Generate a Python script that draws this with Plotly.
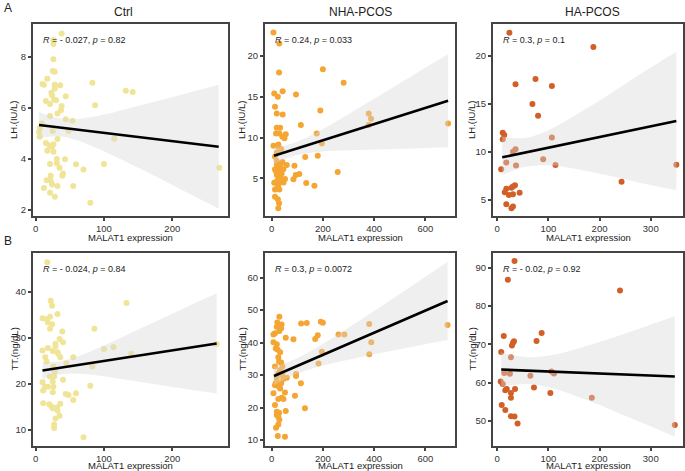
import plotly.graph_objects as go

# ---------------- data ----------------
# Panel A: LH vs MALAT1
ctrl_lh_x = [38, 26, 26, 26, 25, 28, 10, 12, 17, 28, 28, 36, 23, 24, 15, 27, 30, 21, 38, 44, 83,
             87, 132, 142, 37, 32, 21, 44, 54, 9, 6, 5, 6, 25, 48, 15, 20, 24, 26, 32, 115,
             26, 17, 31, 31, 21, 43, 59, 100, 40, 39, 22, 35, 70, 269, 16, 22, 24, 32, 55, 12,
             21, 28, 80]
ctrl_lh_y = [8.91, 8.65, 8.5, 7.9, 7.44, 7.41, 6.93, 6.9, 7.14, 6.9, 6.76, 6.88, 6.59, 6.49, 6.27, 6.33,
             6.3, 6.15, 6.07, 6.45, 6.98, 6.1, 6.67, 6.62, 5.91, 5.78, 5.68, 5.55, 5.5, 5.39, 5.2,
             5.06, 4.87, 5.09, 5.09, 4.63, 4.53, 4.48, 4.58, 4.78, 4.79, 4.28, 4.32, 4.0, 3.83,
             3.8, 3.99, 3.79, 3.8, 3.43, 3.34, 3.34, 3.66, 3.59, 3.66, 3.17, 3.15, 3.0, 2.94, 2.94,
             2.87, 2.68, 2.52, 2.29]

nha_lh_x = [7, 30, 29, 10, 24, 43, 13, 20, 43, 95, 200, 281, 190, 114, 176, 196, 180, 131, 258,
            167, 135, 379, 388, 379, 689, 20, 33, 17, 30, 42, 50, 55, 26, 7, 26, 37, 20, 13, 20,
            37, 20, 33, 24, 13, 29, 39, 20, 33, 24, 37, 13, 46, 26, 59, 89, 94, 85, 52, 10, 20,
            13, 30, 13, 24, 29, 26, 108, 42, 46, 16, 35]
nha_lh_y = [22.85, 21.5, 17.96, 15.4, 14.99, 15.68, 13.76, 12.95, 12.83, 15.27, 18.37, 16.7, 13.3,
            11.52, 10.5, 9.28, 7.77, 7.6, 5.77, 4.1, 4.43, 12.95, 12.3, 11.52, 11.72, 11.2, 11.2,
            10.5, 10.5, 10.1, 9.9, 10.4, 9.16, 9.0, 8.87, 8.6, 8.18, 7.65, 7.1, 6.83, 6.7, 6.5,
            6.3, 6.1, 5.8, 5.6, 5.4, 5.2, 4.8, 4.6, 4.5, 4.5, 4.2, 6.63, 6.55, 5.4, 4.9, 4.92,
            4.47, 3.7, 3.65, 3.65, 2.76, 2.43, 1.94, 1.33, 5.53, 7.0, 6.1, 5.9, 5.9]

ha_lh_x = [24, 188, 75, 36, 107, 69, 80, 11, 14, 11, 107, 36, 31, 90, 18, 37, 114, 350, 8, 243,
           35, 31, 28, 18, 15, 44, 23, 31, 18, 31, 28]
ha_lh_y = [22.43, 20.94, 17.6, 17.05, 16.88, 15.0, 13.78, 12.0, 11.77, 11.32, 11.5, 10.28, 10.03,
           9.24, 8.89, 8.58, 8.65, 8.68, 8.19, 6.91, 6.53, 6.39, 6.28, 6.18, 5.8, 5.76, 5.52,
           5.59, 4.55, 4.31, 4.13]

# Panel B: TT vs MALAT1
ctrl_tt_x = [17, 22, 24, 32, 10, 16, 21, 18, 24, 21, 39, 86, 133, 35, 40, 29, 29, 10, 18, 25, 32,
             33, 36, 14, 16, 55, 45, 100, 114, 140, 83, 26, 28, 21, 27, 25, 10, 40, 26, 14, 11,
             18, 25, 44, 48, 59, 80, 55, 11, 20, 23, 25, 36, 31, 32, 35, 29, 27, 27, 70, 265]
ctrl_tt_y = [46.5, 38.1, 37.0, 35.2, 34.3, 34.1, 34.6, 33.4, 33.0, 32.0, 31.4, 32.0, 37.6, 29.8,
             29.1, 28.7, 28.2, 27.3, 27.8, 27.2, 26.9, 26.6, 25.8, 25.8, 24.9, 25.8, 24.5, 27.6,
             28.0, 26.6, 23.8, 23.8, 22.7, 21.6, 21.6, 20.5, 20.4, 20.9, 19.4, 19.4, 18.6, 19.4,
             18.2, 17.8, 17.6, 18.0, 19.6, 16.5, 15.8, 15.6, 15.1, 14.7, 15.7, 14.9, 14.2, 13.1,
             12.5, 11.2, 10.4, 8.4, 28.7]

nha_tt_x = [30, 22, 39, 20, 30, 37, 13, 7, 55, 85, 115, 137, 192, 200, 180, 170, 261, 284, 381,
            389, 381, 687, 196, 183, 7, 20, 16, 23, 33, 29, 37, 42, 13, 26, 20, 42, 95, 95, 59,
            13, 26, 33, 37, 114, 52, 7, 91, 26, 39, 46, 130, 13, 20, 29, 55, 20, 26, 30, 26, 17,
            24, 52, 33, 20, 45, 26, 16]
nha_tt_y = [48.0, 46.2, 45.6, 44.9, 43.6, 44.4, 42.9, 42.5, 41.5, 41.0, 45.9, 46.0, 46.4, 46.1,
            42.3, 41.1, 42.5, 42.5, 45.7, 40.1, 36.4, 45.4, 37.2, 33.6, 40.1, 39.5, 38.2, 37.9,
            37.0, 34.1, 33.9, 32.6, 32.6, 30.5, 29.2, 30.0, 30.3, 29.7, 29.2, 26.9, 26.6, 25.9,
            27.5, 27.5, 24.6, 24.4, 23.6, 22.6, 23.0, 22.6, 19.8, 20.8, 18.7, 18.4, 18.9, 17.7,
            17.2, 16.2, 14.8, 13.8, 11.2, 11.0, 31.5, 28.0, 28.8, 35.5, 27.5]

ha_tt_x = [34, 21, 240, 87, 13, 33, 31, 29, 77, 8, 27, 14, 25, 65, 106, 111, 7, 11, 19, 16, 35,
           72, 27, 104, 27, 185, 9, 16, 27, 34, 40, 347]
ha_tt_y = [91.8, 86.9, 84.1, 73.0, 72.2, 70.8, 70.4, 69.7, 70.9, 68.0, 66.6, 62.5, 62.3, 61.8,
           62.9, 62.4, 60.3, 59.6, 58.3, 58.0, 58.3, 58.7, 57.3, 57.3, 56.0, 56.0, 54.1, 52.8,
           51.2, 51.1, 49.3, 48.9]

# Fitted regression lines and 95% bands
ctrl_lh_fit_x, ctrl_lh_fit_y = [5, 268], [5.33, 4.48]
ctrl_lh_band_x = [5, 20, 40, 60, 100, 130, 170, 210, 268]
ctrl_lh_band_lo = [4.82, 4.87, 4.87, 4.74, 4.30, 3.92, 3.39, 2.85, 2.06]
ctrl_lh_band_hi = [5.84, 5.69, 5.57, 5.56, 5.74, 5.94, 6.21, 6.49, 6.90]

nha_lh_fit_x, nha_lh_fit_y = [9, 689], [7.77, 14.5]
nha_lh_band_x = [9, 50, 100, 200, 300, 400, 550, 689]
nha_lh_band_lo = [6.73, 7.33, 7.85, 8.28, 8.44, 8.54, 8.66, 8.80]
nha_lh_band_hi = [8.81, 9.03, 9.49, 11.04, 12.86, 14.74, 17.6, 20.2]

ha_lh_fit_x, ha_lh_fit_y = [10, 350], [9.44, 13.23]
ha_lh_band_x = [10, 55, 105, 160, 220, 280, 350]
ha_lh_band_lo = [7.6, 8.45, 8.61, 8.17, 7.51, 6.78, 6.03]
ha_lh_band_hi = [11.6, 11.45, 12.39, 14.05, 16.05, 18.12, 20.43]

ctrl_tt_fit_x, ctrl_tt_fit_y = [10, 265], [22.93, 28.82]
ctrl_tt_band_x = [10, 35, 70, 120, 170, 220, 265]
ctrl_tt_band_lo = [21.09, 22.11, 22.15, 21.2, 20.07, 18.89, 17.92]
ctrl_tt_band_hi = [24.77, 24.91, 26.49, 29.74, 33.19, 36.67, 39.72]

nha_tt_fit_x, nha_tt_fit_y = [9, 687], [29.71, 52.83]
nha_tt_band_x = [9, 80, 150, 250, 350, 450, 560, 687]
nha_tt_band_lo = [26.94, 29.73, 31.76, 33.85, 35.57, 37.17, 38.88, 40.78]
nha_tt_band_hi = [32.48, 34.53, 37.28, 42.01, 47.11, 52.33, 58.12, 64.88]

ha_tt_fit_x, ha_tt_fit_y = [8, 347], [63.4, 61.57]
ha_tt_band_x = [8, 60, 110, 170, 230, 290, 347]
ha_tt_band_lo = [58.93, 59.62, 58.44, 55.68, 52.45, 49.08, 45.82]
ha_tt_band_hi = [67.87, 66.62, 67.26, 69.38, 71.95, 74.68, 77.32]

group_titles = ["Ctrl", "NHA-PCOS", "HA-PCOS"]
stat_labels = ["<i>R</i> = - 0.027, <i>p</i> = 0.82", "<i>R</i> = 0.24, <i>p</i> = 0.033",
               "<i>R</i> = 0.3, <i>p</i> = 0.1", "<i>R</i> = - 0.024, <i>p</i> = 0.84",
               "<i>R</i> = 0.3, <i>p</i> = 0.0072", "<i>R</i> = - 0.02, <i>p</i> = 0.92"]
y_titles = ["LH.(IU/L)", "LH.(IU/L)", "LH.(IU/L)", "TT.(ng/dL)", "TT.(ng/dL)", "TT.(ng/dL)"]
x_title = "MALAT1 expression"

# ---------------- styling / layout ----------------
W, H = 685, 471
FONT = "Liberation Sans, Arial, sans-serif"
colors = ["#F0E496", "#F5A532", "#D25F28"]
FRAME = "#444444"

def fx(p):
    return p / W

def fy(p):
    return 1 - p / H

col_px = [(33, 228), (265, 455), (493, 683)]
row_px = [(24, 216), (253, 446)]

panels = [
    (ctrl_lh_x, ctrl_lh_y, ctrl_lh_fit_x, ctrl_lh_fit_y, ctrl_lh_band_x, ctrl_lh_band_lo, ctrl_lh_band_hi,
     [-3.9, 281.6], [1.77, 9.28], [0, 100, 200], [2, 4, 6, 8]),
    (nha_lh_x, nha_lh_y, nha_lh_fit_x, nha_lh_fit_y, nha_lh_band_x, nha_lh_band_lo, nha_lh_band_hi,
     [-26, 716], [0.39, 23.9], [0, 200, 400, 600], [5, 10, 15, 20]),
    (ha_lh_x, ha_lh_y, ha_lh_fit_x, ha_lh_fit_y, ha_lh_band_x, ha_lh_band_lo, ha_lh_band_hi,
     [-8, 363], [3.33, 23.33], [0, 100, 200, 300], [5, 10, 15, 20]),
    (ctrl_tt_x, ctrl_tt_y, ctrl_tt_fit_x, ctrl_tt_fit_y, ctrl_tt_band_x, ctrl_tt_band_lo, ctrl_tt_band_hi,
     [-3.9, 281.6], [6.5, 48.5], [0, 100, 200], [10, 20, 30, 40]),
    (nha_tt_x, nha_tt_y, nha_tt_fit_x, nha_tt_fit_y, nha_tt_band_x, nha_tt_band_lo, nha_tt_band_hi,
     [-26, 716], [8.15, 67.6], [0, 200, 400, 600], [10, 20, 30, 40, 50, 60]),
    (ha_tt_x, ha_tt_y, ha_tt_fit_x, ha_tt_fit_y, ha_tt_band_x, ha_tt_band_lo, ha_tt_band_hi,
     [-8, 363], [43.4, 93.9], [0, 100, 200, 300], [50, 60, 70, 80, 90]),
]

fig = go.Figure()
layout = dict(width=W, height=H, autosize=False, margin=dict(l=0, r=0, t=0, b=0, pad=0),
              paper_bgcolor="white", plot_bgcolor="white", showlegend=False,
              font=dict(family=FONT, color="#222222"))
annotations = []

axis_common = dict(showgrid=False, zeroline=False, showline=True, mirror=True,
                   linecolor=FRAME, linewidth=2, ticks="outside", ticklen=3,
                   tickwidth=2, tickcolor=FRAME,
                   tickfont=dict(family=FONT, size=9.5, color="#333333"))

for k, (px_, py_, fxs, fys, bx, blo, bhi, xr, yr, xt, yt) in enumerate(panels):
    r, c = divmod(k, 3)
    n = k + 1
    xa = "x" if n == 1 else f"x{n}"
    ya = "y" if n == 1 else f"y{n}"
    xkey = "xaxis" if n == 1 else f"xaxis{n}"
    ykey = "yaxis" if n == 1 else f"yaxis{n}"
    x0, x1 = col_px[c]
    y0, y1 = row_px[r]
    layout[xkey] = dict(axis_common, domain=[fx(x0), fx(x1)], range=xr, tickvals=xt,
                        anchor=ya)
    layout[ykey] = dict(axis_common, domain=[fy(y1), fy(y0)], range=yr, tickvals=yt,
                        anchor=xa)

    fig.add_trace(go.Scatter(x=px_, y=py_, mode="markers", xaxis=xa, yaxis=ya,
                             marker=dict(size=6, color=colors[c], line=dict(width=0)),
                             hoverinfo="skip", cliponaxis=False))
    fig.add_trace(go.Scatter(x=bx, y=blo, mode="lines", xaxis=xa, yaxis=ya,
                             line=dict(width=0, shape="spline", color="rgba(0,0,0,0)"),
                             hoverinfo="skip"))
    fig.add_trace(go.Scatter(x=bx, y=bhi, mode="lines", xaxis=xa, yaxis=ya, fill="tonexty",
                             fillcolor="rgba(215,215,215,0.4)",
                             line=dict(width=0, shape="spline", color="rgba(0,0,0,0)"),
                             hoverinfo="skip"))
    fig.add_trace(go.Scatter(x=fxs, y=fys, mode="lines", xaxis=xa, yaxis=ya,
                             line=dict(width=2.6, color="black"), hoverinfo="skip"))

    # statistics label
    annotations.append(dict(text=stat_labels[k], xref="paper", yref="paper",
                            x=fx(x0 + 8), y=fy(y0 + 16), xanchor="left", yanchor="middle",
                            showarrow=False, font=dict(size=9, color="#222222")))
    # y title
    ytx = [14, 242, 472][c]
    annotations.append(dict(text=y_titles[k], xref="paper", yref="paper",
                            x=fx(ytx), y=fy((y0 + y1) / 2), xanchor="center", yanchor="middle",
                            textangle=-90, showarrow=False, font=dict(size=9.5, color="#222222")))
    # x title
    annotations.append(dict(text=x_title, xref="paper", yref="paper",
                            x=fx((x0 + x1) / 2), y=fy([237, 465.5][r]), xanchor="center",
                            yanchor="middle", showarrow=False, font=dict(size=9.5, color="#222222")))

title_x = [123, 361, 592]
for c in range(3):
    annotations.append(dict(text=group_titles[c], xref="paper", yref="paper",
                            x=fx(title_x[c]), y=fy(12), xanchor="center", yanchor="middle",
                            showarrow=False, font=dict(size=12, color="#222222")))

annotations.append(dict(text="A", xref="paper", yref="paper", x=fx(2), y=fy(8),
                        xanchor="left", yanchor="middle", showarrow=False,
                        font=dict(size=12, color="#222222")))
annotations.append(dict(text="B", xref="paper", yref="paper", x=fx(2), y=fy(241),
                        xanchor="left", yanchor="middle", showarrow=False,
                        font=dict(size=12, color="#222222")))

layout["annotations"] = annotations
fig.update_layout(**layout)

page_js = (
    "document.body.style.margin='0px';document.body.style.padding='0px';"
    "document.documentElement.style.overflow='hidden';"
)
fig.write_html("out.html", config={"displayModeBar": False}, post_script=page_js)
